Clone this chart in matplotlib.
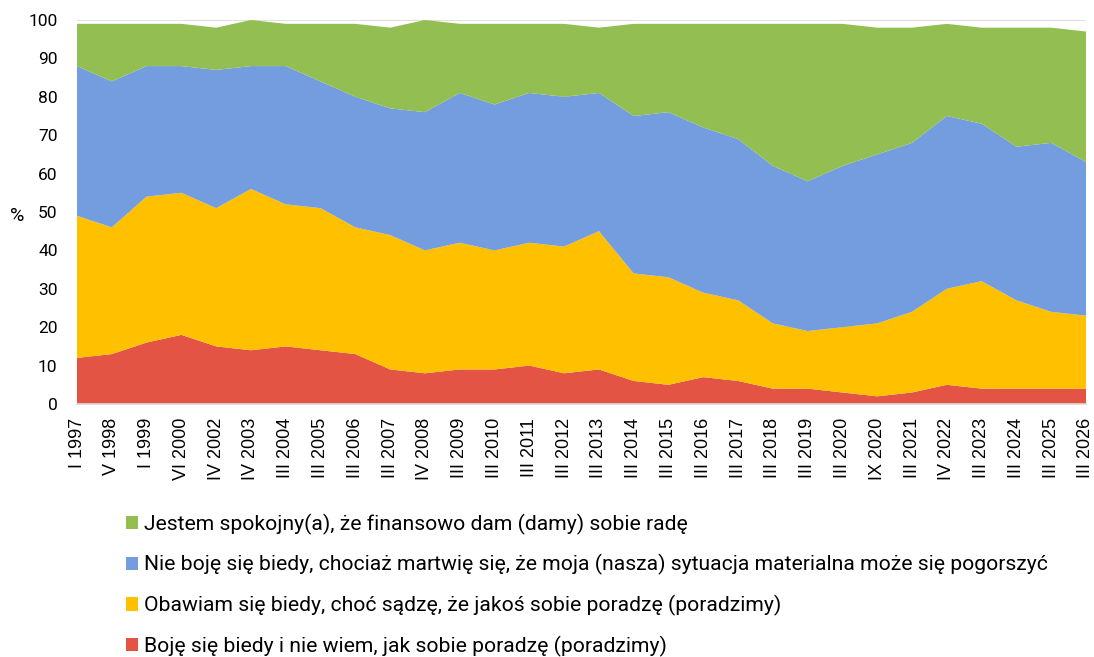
import numpy as np
import matplotlib
matplotlib.use("Agg")
import matplotlib.pyplot as plt
from matplotlib.patches import Patch

plt.rcParams['font.family'] = ['Roboto', 'DejaVu Sans']

categories = ["I 1997", "V 1998", "I 1999", "VI 2000", "IV 2002", "IV 2003", "III 2004",
              "III 2005", "III 2006", "III 2007", "IV 2008", "III 2009", "III 2010", "III 2011",
              "III 2012", "III 2013", "III 2014", "III 2015", "III 2016", "III 2017", "III 2018",
              "III 2019", "III 2020", "IX 2020", "III 2021", "IV 2022", "III 2023", "III 2024",
              "III 2025", "III 2026"]

boje_sie = [12, 13, 16, 18, 15, 14, 15, 14, 13, 9, 8, 9, 9, 10, 8, 9, 6, 5, 7, 6,
            4, 4, 3, 2, 3, 5, 4, 4, 4, 4]
obawiam_sie = [37, 33, 38, 37, 36, 42, 37, 37, 33, 35, 32, 33, 31, 32, 33, 36, 28, 28, 22, 21,
               17, 15, 17, 19, 21, 25, 28, 23, 20, 19]
nie_boje_sie = [39, 38, 34, 33, 36, 32, 36, 33, 34, 33, 36, 39, 38, 39, 39, 36, 41, 43, 43, 42,
                41, 39, 42, 44, 44, 45, 41, 40, 44, 40]
spokojny = [11, 15, 11, 11, 11, 12, 11, 15, 19, 21, 24, 18, 21, 18, 19, 17, 24, 23, 27, 30,
            37, 41, 37, 33, 30, 24, 25, 31, 30, 34]

labels = ["Boję się biedy i nie wiem, jak sobie poradzę (poradzimy)",
          "Obawiam się biedy, choć sądzę, że jakoś sobie poradzę (poradzimy)",
          "Nie boję się biedy, chociaż martwię się, że moja (nasza) sytuacja materialna może się pogorszyć",
          "Jestem spokojny(a), że finansowo dam (damy) sobie radę"]
colors = ["#E35444", "#FFC000", "#739DDF", "#92BE52"]

fig = plt.figure(figsize=(10.94, 6.57), dpi=100)
ax = fig.add_axes([77/1094, 1 - 404/657, (1086 - 77)/1094, (404 - 20)/657])

x = np.arange(len(categories))
ax.stackplot(x, boje_sie, obawiam_sie, nie_boje_sie, spokojny, colors=colors,
             linewidth=0, zorder=2)

ax.set_xlim(0, len(categories) - 1)
ax.set_ylim(0, 100)
ax.set_yticks(np.arange(0, 101, 10))
ax.set_xticks(x)
ax.set_xticklabels(categories, rotation=90, fontsize=13,
                   family=['Liberation Sans', 'DejaVu Sans'])
ax.tick_params(axis='y', labelsize=12.5, length=0, pad=14)
ax.tick_params(axis='x', length=0, pad=10)
ax.yaxis.grid(True, color="#D9D9D9", linewidth=1.2, zorder=0)
ax.set_axisbelow(True)
for s in ['top', 'right', 'left']:
    ax.spines[s].set_visible(False)
ax.spines['bottom'].set_color("#D9D9D9")
ax.spines['bottom'].set_linewidth(1.2)

fig.text(17/1094, 1 - 216/657, "%", fontsize=14, ha='center', va='center')

handles = [Patch(facecolor=colors[i], edgecolor='none') for i in [3, 2, 1, 0]]
leg_labels = [labels[i] for i in [3, 2, 1, 0]]
fig.legend(handles, leg_labels, loc='upper left', bbox_to_anchor=(115/1094, 1 - 503/657),
           frameon=False, fontsize=15.2, handlelength=0.6, handleheight=0.6,
           handletextpad=0.25, labelspacing=0.93, borderpad=0)

fig.savefig("out.png", dpi=100)
